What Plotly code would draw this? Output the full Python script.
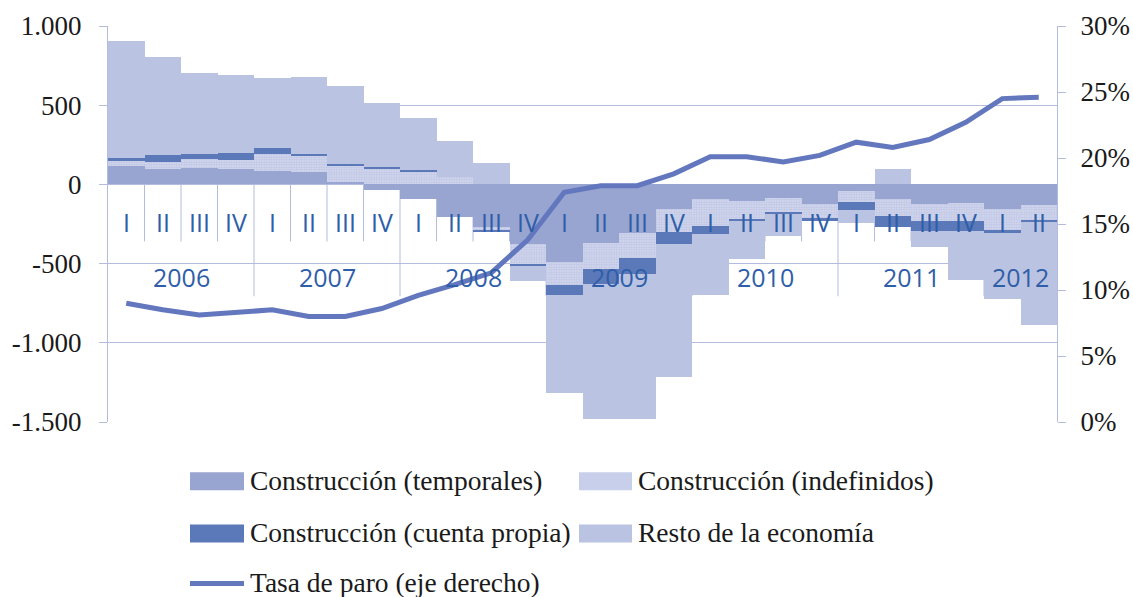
import plotly.graph_objects as go

# ---------------- data ----------------
years = ["2006"] * 4 + ["2007"] * 4 + ["2008"] * 4 + ["2009"] * 4 + ["2010"] * 4 + ["2011"] * 4 + ["2012"] * 2
quarters = ["I", "II", "III", "IV"] * 6 + ["I", "II"]

temporales = [114, 98, 106, 98, 87, 80, 16, -37, -91, -207, -269, -379, -491, -370, -307, -158,
              -95, -103, -87, -122, -44, -89, -122, -116, -158, -133]
indefinidos = [35, 43, 52, 58, 103, 102, 98, 98, 80, 47, -21, -122, -147, -162, -155, -143,
               -170, -118, -88, -89, -68, -111, -110, -112, -136, -95]
cuenta_propia = [16, 42, 35, 45, 37, 10, 17, 10, 13, 0, -12, -15, -58, -95, -102, -74,
                 -50, -9, -9, -17, -52, -70, -62, -69, -11, -8]
resto = [743, 621, 512, 487, 445, 489, 490, 408, 328, 225, 137, -95, -621, -853, -915, -842,
         -381, -244, -143, 0, -80, 95, -101, -305, -416, -654]
tasa_paro = [9.0, 8.5, 8.1, 8.3, 8.5, 8.0, 8.0, 8.6, 9.6, 10.4, 11.3, 13.8, 17.4, 17.9, 17.9, 18.8,
             20.1, 20.1, 19.7, 20.2, 21.2, 20.8, 21.4, 22.7, 24.5, 24.6]

series_names = ["Construcción (temporales)", "Construcción (indefinidos)",
                "Construcción (cuenta propia)", "Resto de la economía",
                "Tasa de paro (eje derecho)"]

left_ticks = [-1500, -1000, -500, 0, 500, 1000]
left_ticktext = ["-1.500", "-1.000", "-500", "0", "500", "1.000"]
right_ticks = [0, 5, 10, 15, 20, 25, 30]
right_ticktext = [f"{v}%" for v in right_ticks]

# ---------------- style ----------------
C_TEMP = "#98a5d0"
C_CP = "#5b78b8"
C_RESTO = "#bac3e1"
C_LINE = "#6377be"
C_AXIS = "#b3bcdf"
C_LABEL = "#2f5ea9"
SERIF = "Liberation Serif, Times New Roman, serif"
SANS = "Open Sans"

x = list(range(len(quarters)))

fig = go.Figure()
fig.add_trace(go.Bar(x=x, y=temporales, name=series_names[0], marker=dict(color=C_TEMP, line=dict(width=0))))
fig.add_trace(go.Bar(x=x, y=indefinidos, name=series_names[1],
                     marker=dict(color="#cdd3ec", line=dict(width=0),
                                 pattern=dict(shape=".", fgcolor="#a1abd8", bgcolor="#d8ddf0",
                                              size=2.5, solidity=0.6))))
fig.add_trace(go.Bar(x=x, y=cuenta_propia, name=series_names[2], marker=dict(color=C_CP, line=dict(width=0))))
fig.add_trace(go.Bar(x=x, y=resto, name=series_names[3], marker=dict(color=C_RESTO, line=dict(width=0))))
fig.add_trace(go.Scatter(x=x, y=tasa_paro, name=series_names[4], yaxis="y2", mode="lines",
                         line=dict(color=C_LINE, width=5)))

# ---------------- category labels inside plot ----------------
Q_Y = -239
Y_Y = -586
QSEP = -360
YSEP = -706
annotations = []
shapes = []
for i, q in enumerate(quarters):
    annotations.append(dict(x=i, y=Q_Y, xref="x", yref="y", text=q, showarrow=False,
                            font=dict(family=SANS, size=25, color=C_LABEL)))
uniq_years = []
for yv in years:
    if yv not in uniq_years:
        uniq_years.append(yv)
for yv in uniq_years:
    idx = [i for i, v in enumerate(years) if v == yv]
    annotations.append(dict(x=sum(idx) / len(idx), y=Y_Y, xref="x", yref="y", text=yv, showarrow=False,
                            font=dict(family=SANS, size=25, color=C_LABEL)))
for i in range(1, len(quarters)):
    bottom = YSEP if years[i] != years[i - 1] else QSEP
    shapes.append(dict(type="line", xref="x", yref="y", x0=i - 0.5, x1=i - 0.5, y0=0, y1=bottom,
                       line=dict(color=C_AXIS, width=1), layer="below"))

# ---------------- custom legend ----------------
L, T, PW, PH = 108, 26, 949, 395.7
def px(xp):
    return (xp - L) / PW
def py(yp):
    return (T + PH - yp) / PH

legend_items = [
    (190, 244, 481, series_names[0], "rect", C_TEMP),
    (579, 632, 481, series_names[1], "rect", "#c8cfeb"),
    (190, 244, 533, series_names[2], "rect", C_CP),
    (579, 632, 533, series_names[3], "rect", C_RESTO),
    (190, 244, 583, series_names[4], "line", C_LINE),
]
for x0, x1, yc, name, kind, col in legend_items:
    if kind == "rect":
        shapes.append(dict(type="rect", xref="paper", yref="paper", x0=px(x0), x1=px(x1),
                           y0=py(yc + 9), y1=py(yc - 9), fillcolor=col, line=dict(width=0)))
    else:
        shapes.append(dict(type="line", xref="paper", yref="paper", x0=px(x0), x1=px(x1),
                           y0=py(yc), y1=py(yc), line=dict(color=col, width=5)))
    annotations.append(dict(x=px(x1 + 4), y=py(yc - 1), xref="paper", yref="paper", text=name,
                            xanchor="left", yanchor="middle", showarrow=False,
                            font=dict(family=SERIF, size=27.5, color="#1a1a1a")))

fig.update_layout(
    width=1133, height=597,
    margin=dict(l=108, r=76, t=26, b=175, autoexpand=False),
    paper_bgcolor="white", plot_bgcolor="white",
    barmode="relative", bargap=0,
    showlegend=False,
    xaxis=dict(range=[-0.5, len(quarters) - 0.5], showticklabels=False, showgrid=False,
               zeroline=False, showline=False, ticks="", automargin=False),
    yaxis=dict(range=[-1500, 1000], tickmode="array", tickvals=left_ticks, ticktext=left_ticktext,
               showgrid=True, gridcolor=C_AXIS, gridwidth=1,
               zeroline=True, zerolinecolor=C_AXIS, zerolinewidth=1,
               showline=True, linecolor=C_AXIS, linewidth=1, automargin=False,
               ticks="outside", ticklen=8, tickcolor=C_AXIS, ticklabelstandoff=12,
               tickfont=dict(family=SERIF, size=27, color="#1a1a1a")),
    yaxis2=dict(range=[0, 30], tickmode="array", tickvals=right_ticks, ticktext=right_ticktext,
                overlaying="y", side="right", automargin=False,
                showgrid=False, zeroline=False, showline=True, linecolor=C_AXIS, linewidth=1,
                ticks="outside", ticklen=8, tickcolor=C_AXIS, ticklabelstandoff=9,
                tickfont=dict(family=SERIF, size=27, color="#1a1a1a")),
    annotations=annotations,
    shapes=shapes,
)

fig.write_html("out.html", config={"displayModeBar": False},
               post_script="document.body.style.margin='0px';")
